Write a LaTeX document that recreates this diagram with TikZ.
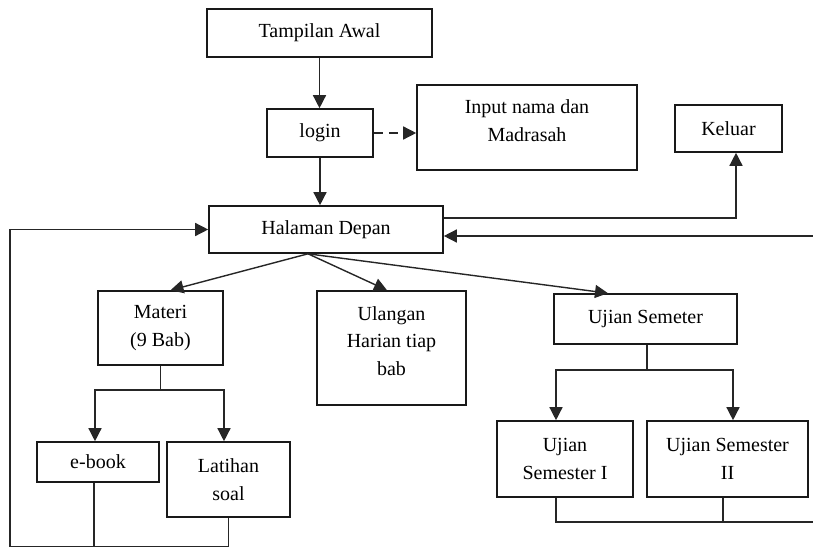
\documentclass[tikz,border=0pt]{standalone}
\usepackage{fontspec}
\setmainfont{Liberation Serif}
\usetikzlibrary{arrows.meta}

\begin{document}
\begin{tikzpicture}
          [x = 1pt, y = -1pt,
           box/.style  = {draw = boxcolor, line width = 1.6pt, inner sep = 0pt, align = center,
                          text = black, font = \fontsize{20}{27.5}\selectfont},
           link/.style = {draw = linecolor, line width = 1.4pt, -{Triangle[length=13pt, width=13pt]}},
           wire/.style = {draw = linecolor, line width = 1.4pt}]

% Define colors
\colorlet{boxcolor}{black!90}
\colorlet{linecolor}{black!85}

\useasboundingbox (0,0) rectangle (813,548);

% Top of the flow
  \node [box, minimum width = 225pt, minimum height = 48pt] (awal)   at (319.5,33)  {Tampilan Awal};
  \node [box, minimum width = 106pt, minimum height = 48pt] (login)  at (320,133)   {login};
  \node [box, minimum width = 220pt, minimum height = 85pt, text depth = 14pt] (input) at (527,127.5) {Input nama dan\\Madrasah};
  \node [box, minimum width = 107pt, minimum height = 47pt] (keluar) at (728.5,128.5) {Keluar};
  \node [box, minimum width = 234pt, minimum height = 47pt] (depan)  at (326,229.5) {Halaman Depan};

% Menu
  \node [box, minimum width = 125pt, minimum height = 74pt]  (materi)   at (160.5,328) {Materi\\(9 Bab)};
  \node [box, minimum width = 149pt, minimum height = 114pt, text depth = 14pt] (ulangan) at (391.5,348) {Ulangan\\Harian tiap\\bab};
  \node [box, minimum width = 183pt, minimum height = 50pt]  (semester) at (645.5,319) {Ujian Semeter};

% Sub menu
  \node [box, minimum width = 122pt, minimum height = 40pt] (ebook)   at (98,462)    {e-book};
  \node [box, minimum width = 123pt, minimum height = 75pt] (latihan) at (228.5,479.5) {Latihan\\soal};
  \node [box, minimum width = 136pt, minimum height = 76pt] (sem1)    at (565,459)   {Ujian\\Semester I};
  \node [box, minimum width = 161pt, minimum height = 76pt] (sem2)    at (727.5,459) {Ujian Semester\\II};

% free ends at the border
  \coordinate (hub)      at ([xshift=-18pt]depan.south);
  \coordinate (leftbot)  at (10,546.5);
  \coordinate (rightin)  at (813,236);
  \coordinate (rightbot) at (813,522);

% main connections
   \draw [link] (awal.south) -- (awal.south |- login.north);
   \draw [link, dash pattern = on 9pt off 6pt] (login.east) -- (login.east -| input.west);
   \draw [link] (login.south) -- (login.south |- depan.north);
   \draw [link] ([yshift=11.5pt]depan.east) -| ([xshift=7.5pt]keluar.south);
   \draw [link] (rightin) -- (rightin -| depan.east);

   \draw [link] (hub) -- ([xshift=10pt]materi.north);
   \draw [link] (hub) -- ([xshift=-4.5pt]ulangan.north);
   \draw [link] (hub) -- ([xshift=-37.5pt]semester.north);

% branches
   \draw [wire] (materi.south) -- ++(0,24) coordinate (mfork);
   \draw [link] (mfork) -| ([xshift=-3pt]ebook.north);
   \draw [link] (mfork) -| ([xshift=-4.5pt]latihan.north);

   \draw [wire] ([xshift=1.5pt]semester.south) -- ++(0,25) coordinate (sfork);
   \draw [link] (sfork) -| ([xshift=-9pt]sem1.north);
   \draw [link] (sfork) -| ([xshift=5.5pt]sem2.north);

% back to Halaman Depan
   \draw [link] (latihan.south) |- (leftbot) |- (depan.west);
   \draw [wire] ([xshift=-4pt]ebook.south) -- ([xshift=-4pt]ebook.south |- leftbot);
   \draw [wire] ([xshift=-9pt]sem1.south) |- (rightbot);
   \draw [wire] ([xshift=-4.5pt]sem2.south) -- ++(0,25);

\end{tikzpicture}
\end{document}
